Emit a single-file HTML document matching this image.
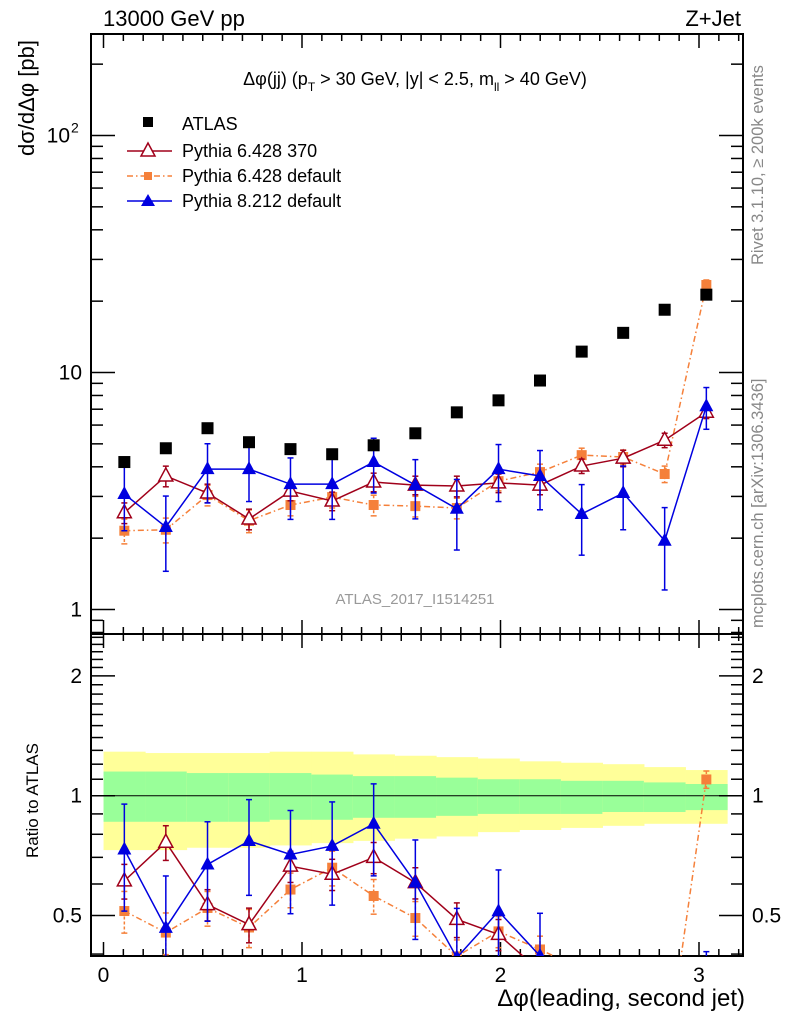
<!DOCTYPE html>
<html><head><meta charset="utf-8"><style>
html,body{margin:0;padding:0;background:#fff;width:786px;height:1024px;overflow:hidden}
svg{display:block;font-family:"Liberation Sans",sans-serif}
</style></head><body>
<svg id="c" width="786" height="1024" viewBox="0 0 786 1024" xmlns="http://www.w3.org/2000/svg">
<defs>
<clipPath id="clipMain"><rect x="91" y="34" width="652" height="600"/></clipPath>
<clipPath id="clipRatio"><rect x="91" y="634" width="652" height="322"/></clipPath>
</defs>
<g id="g"></g>
<text x="103" y="26" font-size="22">13000 GeV pp</text>
<text x="741" y="26" font-size="22" text-anchor="end">Z+Jet</text>
<text x="415" y="85" font-size="18" text-anchor="middle">Δφ(jj) (p<tspan font-size="12" dy="6">T</tspan><tspan dy="-6"> &gt; 30 GeV, |y| &lt; 2.5, m</tspan><tspan font-size="12" dy="6">ll</tspan><tspan dy="-6"> &gt; 40 GeV)</tspan></text>
<text transform="translate(34,156) rotate(-90)" font-size="22">dσ/dΔφ [pb]</text>
<text transform="translate(38,858) rotate(-90)" font-size="17">Ratio to ATLAS</text>
<text x="745" y="1006" font-size="24" text-anchor="end">Δφ(leading, second jet)</text>
<text transform="translate(763,265) rotate(-90)" font-size="16.5" fill="#888">Rivet 3.1.10, ≥ 200k events</text>
<text transform="translate(763,628) rotate(-90)" font-size="16.5" fill="#888">mcplots.cern.ch [arXiv:1306.3436]</text>
<text x="415" y="604" font-size="15" fill="#999" text-anchor="middle">ATLAS_2017_I1514251</text>
<g>
<rect x="143" y="117" width="10" height="10" fill="#000"/>
<text x="182" y="130" font-size="18">ATLAS</text>
<line x1="127" y1="151" x2="172" y2="151" stroke="#a0001a" stroke-width="1.5"/>
<polygon points="148,143 155,156 141,156" fill="#fff" stroke="#a0001a" stroke-width="1.5"/>
<text x="182" y="157" font-size="18">Pythia 6.428 370</text>
<line x1="127" y1="176" x2="172" y2="176" stroke="#f5803a" stroke-width="1.5" stroke-dasharray="6,3,1.5,3"/>
<rect x="144" y="172" width="8" height="8" fill="#f5803a"/>
<text x="182" y="182" font-size="18">Pythia 6.428 default</text>
<line x1="127" y1="201" x2="172" y2="201" stroke="#0000e0" stroke-width="1.5"/>
<polygon points="148,194 155,206 141,206" fill="#0000e0"/>
<text x="182" y="207" font-size="18">Pythia 8.212 default</text>
</g>
</svg>
<script>
const binCenters=[0.105,0.314,0.524,0.733,0.942,1.152,1.361,1.571,1.780,1.990,2.199,2.409,2.618,2.827,3.037];
const atlasVals=[4.19,4.79,5.82,5.08,4.75,4.52,4.93,5.54,6.79,7.63,9.25,12.25,14.7,18.4,21.3];
const py6370Vals=[2.56,3.66,3.10,2.41,3.16,2.87,3.45,3.35,3.32,3.42,3.35,4.03,4.35,5.18,6.8];
const py6370Err=[0.10,0.10,0.09,0.10,0.09,0.09,0.09,0.09,0.10,0.09,0.09,0.07,0.08,0.07,0.06];
const py6defVals=[2.15,2.17,3.04,2.37,2.76,2.98,2.76,2.73,2.68,3.48,3.80,4.48,4.40,3.73,23.4];
const py6defErr=[0.12,0.12,0.10,0.11,0.10,0.10,0.10,0.10,0.10,0.09,0.08,0.07,0.07,0.08,0.05];
const py8Vals=[3.07,2.23,3.91,3.91,3.38,3.38,4.19,3.35,2.66,3.91,3.66,2.53,3.10,1.95,7.2];
const py8Err=[0.30,0.35,0.28,0.27,0.29,0.29,0.26,0.28,0.33,0.27,0.28,0.33,0.30,0.38,0.20];
const statUp=[0.15,0.15,0.14,0.14,0.14,0.13,0.12,0.12,0.11,0.10,0.10,0.09,0.09,0.08,0.07];
const statDn=[0.14,0.14,0.14,0.14,0.13,0.13,0.12,0.12,0.11,0.10,0.10,0.10,0.09,0.09,0.08];
const totUp=[0.29,0.28,0.28,0.28,0.29,0.29,0.27,0.26,0.25,0.24,0.22,0.21,0.20,0.18,0.16];
const totDn=[0.27,0.27,0.26,0.26,0.25,0.24,0.23,0.22,0.21,0.19,0.18,0.17,0.16,0.15,0.15];
const binW=Math.PI/15;

const NS="http://www.w3.org/2000/svg";
const g=document.getElementById('g');
function mk(tag,attrs,parent){const e=document.createElementNS(NS,tag);for(const k in attrs)e.setAttribute(k,attrs[k]);(parent||g).appendChild(e);return e;}
const X=v=>103.5+198.5*v;
const YM=v=>609.5-237*Math.log10(v);
const YR=v=>795.7-398*Math.log10(v);
const L=91,R=743,T=34,MB=634,RB=956;

const bands=mk('g',{});


binCenters.forEach((c,i)=>{
  const x0=X(c-binW/2),x1=X(c+binW/2);
  const y1=mk('rect',{x:x0,y:YR(1+totUp[i]),width:x1-x0+0.5,height:YR(1-totDn[i])-YR(1+totUp[i]),fill:'#ffff99'},bands);
  
  
  const g1=mk('rect',{x:x0,y:YR(1+statUp[i]),width:x1-x0+0.5,height:YR(1-statDn[i])-YR(1+statUp[i]),fill:'#99ff99'},bands);
  
  
});
mk('line',{x1:L,x2:R,y1:YR(1),y2:YR(1),stroke:'#000','stroke-width':1});

const fm=mk('rect',{x:L,y:T,width:R-L,height:MB-T,fill:'none',stroke:'#000','stroke-width':2});


const fr=mk('rect',{x:L,y:MB,width:R-L,height:RB-MB,fill:'none',stroke:'#000','stroke-width':2});



for(let k=0;k<=32;k++){
  const v=k/10,x=X(v);if(x>R-1)break;
  const maj=k%10===0,len=maj?14:7;
  [[T,1],[MB,-1],[MB,1],[RB,-1]].forEach(([y,d])=>mk('line',{x1:x,x2:x,y1:y,y2:y+d*len,stroke:'#000','stroke-width':1.5}));
  if(maj){const t=mk('text',{x:x,y:982,'font-size':21,'text-anchor':'middle'});t.textContent=String(k/10);
    
    }
}
for(let d=-1;d<=2;d++)for(let m=1;m<=9;m++){
  const v=m*Math.pow(10,d),y=YM(v);if(y<T||y>MB)continue;
  const len=m===1?24:12;
  mk('line',{x1:L,x2:L+len,y1:y,y2:y,stroke:'#000','stroke-width':1.5});
  mk('line',{x1:R,x2:R-len,y1:y,y2:y,stroke:'#000','stroke-width':1.5});
}
const yl=[['1',1],['10',10]];
yl.forEach(([s,v])=>{const t=mk('text',{x:82,y:YM(v)+7,'font-size':21,'text-anchor':'end'});t.textContent=s;
  
  });
{const t=mk('text',{x:70,y:YM(100)+7,'font-size':21,'text-anchor':'end'});t.textContent='10';
 const s=mk('text',{x:71,y:YM(100)-3,'font-size':14});s.textContent='2';
 
 }
for(let k=4;k<=25;k++){
  const v=k/10,y=YR(v);if(y<MB||y>RB)continue;
  const maj=(k===5||k===10||k===20),len=maj?24:12;
  mk('line',{x1:L,x2:L+len,y1:y,y2:y,stroke:'#000','stroke-width':1.5});
  mk('line',{x1:R,x2:R-len,y1:y,y2:y,stroke:'#000','stroke-width':1.5});
}
[['0.5',0.5],['1',1],['2',2]].forEach(([s,v])=>{
  const t=mk('text',{x:82,y:YR(v)+7,'font-size':21,'text-anchor':'end'});t.textContent=s;
  
  
  const t2=mk('text',{x:752,y:YR(v)+7,'font-size':21});t2.textContent=s;
  
  
});

function series(vals,err,color,dash,marker,name){
  [['main',YM,'clipMain',vals.map(v=>v)],['ratio',YR,'clipRatio',vals.map((v,i)=>v/atlasVals[i])]].forEach(([p,Y,clip,vv])=>{
    const grp=mk('g',{'clip-path':'url(#'+clip+')'});
    
    
    const pts=vv.map((v,i)=>X(binCenters[i])+','+Y(v)).join(' ');
    const attrs={points:pts,fill:'none',stroke:color,'stroke-width':1.5};
    if(dash)attrs['stroke-dasharray']=dash;
    mk('polyline',attrs,grp);
    vv.forEach((v,i)=>{
      const x=X(binCenters[i]),y=Y(v),y1=Y(v*(1+err[i])),y2=Y(Math.max(v*(1-err[i]),1e-3));
      const ea={x1:x,x2:x,y1:y1,y2:y2,stroke:color,'stroke-width':1.5};
      if(dash)ea['stroke-dasharray']='3,2';
      mk('line',ea,grp);
      mk('line',{x1:x-3,x2:x+3,y1:y1,y2:y1,stroke:color,'stroke-width':1.5},grp);
      mk('line',{x1:x-3,x2:x+3,y1:y2,y2:y2,stroke:color,'stroke-width':1.5},grp);
      let m;
      if(marker==='open')m=mk('polygon',{points:`${x},${y-8} ${x+7},${y+5} ${x-7},${y+5}`,fill:'#fff',stroke:color,'stroke-width':1.5},grp);
      else if(marker==='tri')m=mk('polygon',{points:`${x},${y-8} ${x+7},${y+5} ${x-7},${y+5}`,fill:color},grp);
      else m=mk('rect',{x:x-5,y:y-5,width:10,height:10,fill:color},grp);
      
      
    });
  });
}
series(py6defVals,py6defErr,'#f5803a','6,3,1.5,3','sq','pythia6-default');
series(py6370Vals,py6370Err,'#a0001a',null,'open','pythia6-370');
series(py8Vals,py8Err,'#0000e0',null,'tri','pythia8-default');
const ag=mk('g',{'clip-path':'url(#clipMain)'});


atlasVals.forEach((v,i)=>{
  const r=mk('rect',{x:X(binCenters[i])-6,y:YM(v)-6,width:12,height:12,fill:'#000'},ag);
  
  
});
</script>
</body></html>
